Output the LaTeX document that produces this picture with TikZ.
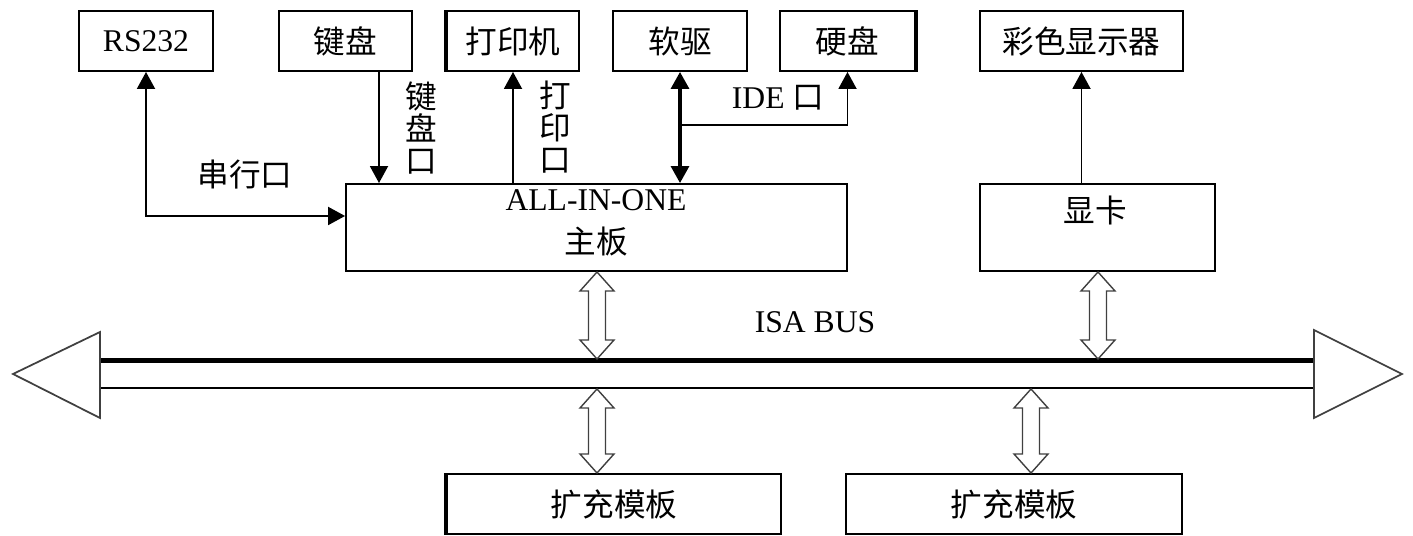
\documentclass[tikz,border=0pt]{standalone}
\usepackage{fontspec}
\setmainfont{Liberation Serif}
\newfontfamily\cjk{Noto Sans CJK SC}
\usetikzlibrary{arrows.meta,calc}
\newcommand\hollowarrow[3]{%
  \draw[hollow] (#1,#2) -- (#1+17,#2+19) -- (#1+8.5,#2+19) -- (#1+8.5,#3-19) -- (#1+17,#3-19)
    -- (#1,#3) -- (#1-17,#3-19) -- (#1-8.5,#3-19) -- (#1-8.5,#2+19) -- (#1-17,#2+19) -- cycle;}
\begin{document}
\begin{tikzpicture}[x=0.02cm,y=-0.02cm,
  font=\fontsize{18}{18}\selectfont,
  box/.style={draw, line width=1.1pt, inner sep=0pt, minimum height=1.2cm},
  conn/.style={line width=1.1pt, -{Triangle[length=0.34cm,width=0.36cm]}},
  conn2/.style={line width=1.1pt, {Triangle[length=0.34cm,width=0.36cm]}-{Triangle[length=0.34cm,width=0.36cm]}},
  hollow/.style={draw=black!75, fill=white, line width=0.8pt},
  vtext/.style={align=center, font=\cjk\fontsize{18}{18.2}\selectfont, inner sep=0pt},
  lbl/.style={inner sep=0pt}]
\useasboundingbox (0,0) rectangle (1413,536);

% top row boxes
\node[box, minimum width=2.68cm] (rs) at (146,41) {RS232};
\node[box, minimum width=2.66cm] (kb) at (345.5,41) {\cjk 键盘};
\node[box, minimum width=2.64cm] (pr) at (513,41) {\cjk 打印机};
\node[box, minimum width=2.68cm] (fd) at (680,41) {\cjk 软驱};
\node[box, minimum width=2.70cm] (hd) at (847.5,41) {\cjk 硬盘};
\node[box, minimum width=4.06cm] (mon) at (1081.5,41) {\cjk 彩色显示器};
\draw[line width=1.9pt] (pr.north west) -- (pr.south west);
\draw[line width=1.9pt] (hd.north east) -- (hd.south east);

% middle boxes
\node[box, minimum width=10.02cm, minimum height=1.74cm] (mb) at (596.5,227.5) {};
\node[align=center, font=\fontsize{18}{24.5}\selectfont, inner sep=0pt] (mbt) at (596,223) {ALL-IN-ONE\\{\cjk 主板}};
\node[box, minimum width=4.70cm, minimum height=1.74cm] (vc) at (1097.5,227.5) {};
\node[lbl] (vct) at (1095,210) {\cjk 显卡};

% bottom boxes
\node[box, minimum width=6.68cm] (eb1) at (614,504) {\cjk 扩充模板};
\node[box, minimum width=6.72cm] (eb2) at (1014,504) {\cjk 扩充模板};
\draw[line width=1.9pt] (eb1.north west) -- (eb1.south west);

% bus
\coordinate (busTL) at (100,360.5);
\coordinate (busTR) at (1314,360.5);
\coordinate (busBL) at (100,388);
\coordinate (busBR) at (1314,388);
\draw[line width=2.8pt] (busTL) -- (busTR);
\draw[line width=1.5pt] (busBL) -- (busBR);
\draw[draw=black!75, line width=1pt, line join=miter] (100,332) -- (13,374) -- (100,418) -- cycle;
\draw[draw=black!75, line width=1pt, line join=miter] (1314,330) -- (1402,374) -- (1314,418) -- cycle;
\node[lbl] (bus) at (815,322) {ISA BUS};

% thin connectors
\draw[conn2] (rs.south) |- ($(mb.west)+(0,-11.5)$);
\node[lbl] (ser) at (245,175) {\cjk 串行口};
\draw[conn] (379,0 |- kb.south) -- (379,0 |- mb.north);
\node[vtext] (kbp) at (421,128) {键\\盘\\口};
\draw[conn] (pr.south |- mb.north) -- (pr.south);
\node[vtext] (prp) at (555,127) {打\\印\\口};
\draw[line width=1.8pt, {Triangle[length=0.34cm,width=0.36cm]}-{Triangle[length=0.34cm,width=0.36cm]}] (fd.south) -- (fd.south |- mb.north);
\coordinate (ide) at (fd.south |- 0,125);
\draw[conn] (ide) -| (hd.south);
\node[lbl] (idel) at (778,98) {IDE {\cjk 口}};
\draw[conn] (mon.south |- vc.north) -- (mon.south);

% hollow bus arrows
\hollowarrow{597}{272}{359}
\hollowarrow{1098}{272}{359}
\hollowarrow{597}{389}{473}
\hollowarrow{1031}{389}{473}
\end{tikzpicture}
\end{document}
